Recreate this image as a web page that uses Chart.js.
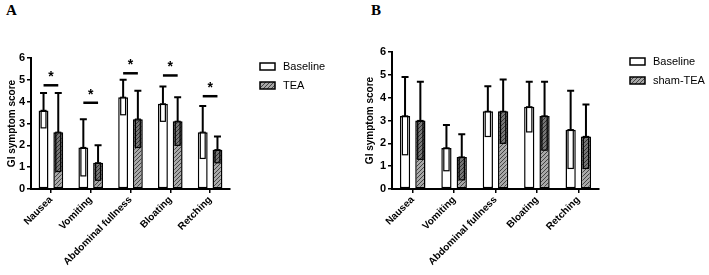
<!DOCTYPE html>
<html>
<head>
<meta charset="utf-8">
<script src="https://cdn.jsdelivr.net/npm/chart.js@4.4.0/dist/chart.umd.min.js"></script>
<style>
  body { margin: 0; background: #fff; width: 709px; height: 275px; overflow: hidden; position: relative; }
  .panel { position: absolute; top: 0; width: 354px; height: 275px; }
  .letter { position: absolute; top: 2px; font: bold 15px 'Liberation Serif', 'Times New Roman', serif; color: #000; }
</style>
</head>
<body>
<div class="letter" style="left:6px">A</div>
<div class="letter" style="left:371px">B</div>
<div class="panel" style="left:0"><canvas id="chartA" width="354" height="275"></canvas></div>
<div class="panel" style="left:355px"><canvas id="chartB" width="354" height="275"></canvas></div>
<script>
const categories = ['Nausea', 'Vomiting', 'Abdominal fullness', 'Bloating', 'Retching'];
const yTicks = [0, 1, 2, 3, 4, 5, 6];

// Panel A: TEA
const baselineA = [3.6, 1.9, 4.2, 3.9, 2.6];
const baselineErrA = [0.8, 1.3, 0.8, 0.8, 1.2];
const teaA = [2.6, 1.2, 3.2, 3.1, 1.8];
const teaErrA = [1.8, 0.8, 1.3, 1.1, 0.6];
const sigLevelA = [4.75, 3.95, 5.3, 5.2, 4.25];

// Panel B: sham-TEA
const baselineB = [3.2, 1.8, 3.4, 3.6, 2.6];
const baselineErrB = [1.7, 1.0, 1.1, 1.1, 1.7];
const shamB = [3.0, 1.4, 3.4, 3.2, 2.3];
const shamErrB = [1.7, 1.0, 1.4, 1.5, 1.4];

Chart.defaults.font.family = "'Liberation Sans', Arial, sans-serif";
Chart.defaults.color = '#000';

// Hatch fill
function makeHatch() {
  const c = document.createElement('canvas');
  c.width = 4; c.height = 4;
  const g = c.getContext('2d');
  g.fillStyle = '#a8a8a8';
  g.fillRect(0, 0, 4, 4);
  g.strokeStyle = '#444';
  g.lineWidth = 1;
  g.beginPath();
  g.moveTo(0, 4); g.lineTo(4, 0);
  g.moveTo(-1, 1); g.lineTo(1, -1);
  g.moveTo(3, 5); g.lineTo(5, 3);
  g.stroke();
  return document.createElement('canvas').getContext('2d').createPattern(c, 'repeat');
}
const hatch = makeHatch();

// Error bars: cap on top only, inner line down to lower value
const errorBars = {
  id: 'errorBars',
  afterDatasetsDraw(chart) {
    const ctx = chart.ctx, y = chart.scales.y;
    chart.data.datasets.forEach((ds, i) => {
      chart.getDatasetMeta(i).data.forEach((bar, j) => {
        const v = ds.data[j], e = ds.errors[j];
        const x = bar.x, w = bar.width;
        const top = y.getPixelForValue(v);
        const hi = y.getPixelForValue(v + e);
        const lo = y.getPixelForValue(v - e);
        ctx.save();
        if (ds.hatched) {
          ctx.fillStyle = 'rgba(0,0,0,0.3)';
          ctx.fillRect(x - w / 2 + 1, top, w - 2, lo - top);
        }
        ctx.strokeStyle = '#000';
        ctx.lineWidth = 1.2;
        ctx.strokeRect(x - w / 2 + 2.5, top, w - 5, lo - top);
        ctx.lineWidth = 2;
        ctx.beginPath();
        ctx.moveTo(x, top); ctx.lineTo(x, hi);
        ctx.moveTo(x - 3.5, hi); ctx.lineTo(x + 3.5, hi);
        ctx.stroke();
        ctx.restore();
      });
    });
  }
};

// Significance lines with stars
const sigMarks = {
  id: 'sigMarks',
  afterDatasetsDraw(chart, args, opts) {
    if (!opts.levels) return;
    const ctx = chart.ctx, y = chart.scales.y;
    const m0 = chart.getDatasetMeta(0), m1 = chart.getDatasetMeta(1);
    opts.levels.forEach((lv, j) => {
      const py = y.getPixelForValue(lv);
      const x0 = m0.data[j].x, x1 = m1.data[j].x;
      ctx.save();
      ctx.strokeStyle = '#000';
      ctx.lineWidth = 2.5;
      ctx.beginPath();
      ctx.moveTo(x0, py); ctx.lineTo(x1, py);
      ctx.stroke();
      ctx.fillStyle = '#000';
      ctx.font = "bold 14px 'Liberation Sans', Arial, sans-serif";
      ctx.textAlign = 'center';
      ctx.textBaseline = 'middle';
      ctx.fillText('*', (x0 + x1) / 2, py - 8);
      ctx.restore();
    });
  }
};

// Legend at the right of the plot
const sideLegend = {
  id: 'sideLegend',
  afterDraw(chart, args, opts) {
    const ctx = chart.ctx;
    chart.data.datasets.forEach((ds, i) => {
      const bx = opts.x, by = opts.y + i * opts.gap;
      ctx.save();
      ctx.fillStyle = ds.backgroundColor;
      ctx.fillRect(bx, by, 15, 7);
      ctx.strokeStyle = '#000';
      ctx.lineWidth = 1.5;
      ctx.strokeRect(bx, by, 15, 7);
      ctx.fillStyle = '#000';
      ctx.font = "11px 'Liberation Sans', Arial, sans-serif";
      ctx.textBaseline = 'middle';
      ctx.fillText(ds.label, bx + 23, by + 4);
      ctx.restore();
    });
  }
};

function makeChart(id, labels, d0, e0, d1, e1, name1, geo) {
  return new Chart(document.getElementById(id), {
    type: 'bar',
    data: {
      labels: labels,
      datasets: [
        { label: 'Baseline', data: d0, errors: e0, backgroundColor: '#fff', hatched: false,
          borderColor: '#000', borderWidth: 1.5, borderSkipped: false },
        { label: name1, data: d1, errors: e1, backgroundColor: hatch, hatched: true,
          borderColor: '#000', borderWidth: 1.5, borderSkipped: false }
      ]
    },
    plugins: [errorBars, sigMarks, sideLegend],
    options: {
      responsive: false,
      animation: false,
      datasets: { bar: { categoryPercentage: 0.74, barPercentage: 0.67 } },
      layout: { padding: { top: geo.top, left: 0, right: geo.right, bottom: 0 } },
      plugins: {
        legend: { display: false },
        tooltip: { enabled: false },
        sigMarks: { levels: geo.sig },
        sideLegend: { x: geo.legendX, y: geo.legendY, gap: 19 }
      },
      scales: {
        x: {
          afterFit: s => { s.height = 86; },
          grid: { offset: false, drawOnChartArea: false, color: '#000', lineWidth: 1.5, tickLength: 4 },
          border: { color: '#000', width: 2 },
          ticks: { maxRotation: 45, minRotation: 45, padding: 1, font: { size: 10, weight: 'bold' } }
        },
        y: {
          min: 0, max: 6,
          afterFit: s => { s.width = geo.yWidth; },
          afterBuildTicks: s => { s.ticks = yTicks.map(v => ({ value: v })); },
          grid: { drawOnChartArea: false, color: '#000', lineWidth: 1.5, tickLength: 4 },
          border: { color: '#000', width: 2 },
          ticks: { padding: 2, font: { size: 11, weight: 'bold' } },
          title: { display: true, text: 'GI symptom score', padding: { top: geo.titlePad, bottom: 0 },
                   font: { size: 10, weight: 'bold' } }
        }
      }
    }
  });
}

makeChart('chartA', categories, baselineA, baselineErrA, teaA, teaErrA, 'TEA',
  { top: 58, right: 124, yWidth: 31, titlePad: 6, sig: sigLevelA, legendX: 260, legendY: 63 });
makeChart('chartB', categories, baselineB, baselineErrB, shamB, shamErrB, 'sham-TEA',
  { top: 52, right: 110, yWidth: 37, titlePad: 9, sig: null, legendX: 275, legendY: 58 });
</script>
</body>
</html>
